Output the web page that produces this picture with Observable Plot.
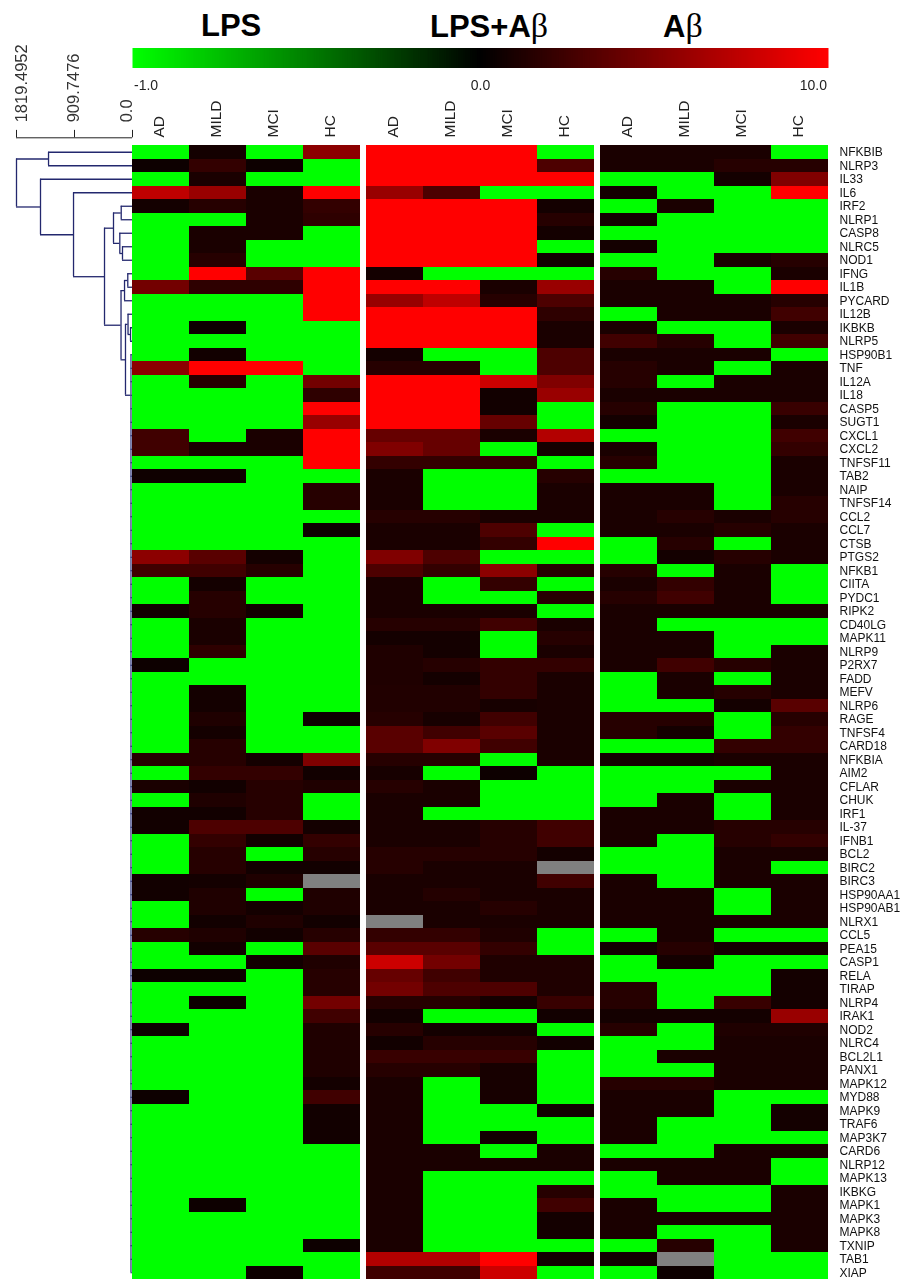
<!DOCTYPE html>
<html>
<head>
<meta charset="utf-8">
<script src="https://cdn.jsdelivr.net/npm/d3@7"></script>
<script src="https://cdn.jsdelivr.net/npm/@observablehq/plot@0.6"></script>
<style>
html,body{margin:0;padding:0;background:#fff;overflow:hidden}
#chart{position:relative;width:905px;height:1279px;overflow:hidden}
#chart svg{position:absolute;background:transparent;max-width:none;filter:blur(0.45px)}
.t{position:absolute;top:11px;font:bold 31px/30px "Liberation Sans",Arial,sans-serif;color:#000;white-space:nowrap}
.t i{font:normal 34px/30px "Liberation Serif",serif}
</style>
</head>
<body>
<div id="chart">
<span class="t" style="left:201px">LPS</span>
<span class="t" style="left:430px">LPS+A<i>β</i></span>
<span class="t" style="left:663px">A<i>β</i></span>
</div>
<script>
const G = -1; // saturated green
const genes = ["NFKBIB","NLRP3","IL33","IL6","IRF2","NLRP1","CASP8","NLRC5","NOD1","IFNG","IL1B","PYCARD","IL12B","IKBKB","NLRP5","HSP90B1","TNF","IL12A","IL18","CASP5","SUGT1","CXCL1","CXCL2","TNFSF11","TAB2","NAIP","TNFSF14","CCL2","CCL7","CTSB","PTGS2","NFKB1","CIITA","PYDC1","RIPK2","CD40LG","MAPK11","NLRP9","P2RX7","FADD","MEFV","NLRP6","RAGE","TNFSF4","CARD18","NFKBIA","AIM2","CFLAR","CHUK","IRF1","IL-37","IFNB1","BCL2","BIRC2","BIRC3","HSP90AA1","HSP90AB1","NLRX1","CCL5","PEA15","CASP1","RELA","TIRAP","NLRP4","IRAK1","NOD2","NLRC4","BCL2L1","PANX1","MAPK12","MYD88","MAPK9","TRAF6","MAP3K7","CARD6","NLRP12","MAPK13","IKBKG","MAPK1","MAPK3","MAPK8","TXNIP","TAB1","XIAP"];
const samples = ["AD","MILD","MCI","HC"];
const groups = ["LPS","LPS+Aβ","Aβ"];
const scaleTicks = [-1,0,10];

const lps = [
[G,.8,G,5.5],[.5,2,.5,G],[G,1,G,G],[7.5,6,1,10],[.8,1.5,1,2],[G,G,1,1.8],[G,1,1,G],[G,1,G,G],[G,1.5,G,G],[G,10,3.5,10],
[4.5,1.8,1.8,10],[G,G,G,10],[G,G,G,10],[G,.5,G,G],[G,G,G,G],[G,.7,G,G],[5.5,10,10,G],[G,1.5,G,4.5],[G,G,G,1.8],[G,G,G,10],
[G,G,G,6],[2.5,G,1,10],[2.5,1,1,10],[G,G,G,10],[.6,.6,G,G],[G,G,G,1.5],[G,G,G,1.5],[G,G,G,G],[G,G,G,.5],[G,G,G,G],
[5.5,3.5,.8,G],[2.5,2.5,1.5,G],[G,.8,G,G],[G,1.5,G,G],[.7,1.5,.7,G],[G,1,G,G],[G,1,G,G],[G,1.8,G,G],[.5,G,G,G],[G,G,G,G],
[G,.8,G,G],[G,.8,G,G],[G,1.2,G,.5],[G,.8,G,G],[G,1.5,G,G],[1.5,1.5,.8,5],[G,2,2,.7],[1,.7,1.5,1.2],[G,1.2,1.5,G],[.7,.7,1.5,G],
[.7,3,3,.8],[G,2,.7,2],[G,1.5,G,1.5],[G,1.5,.7,.7],[.7,.8,1.2,null],[.7,1.2,G,1.2],[G,1.2,.8,1.2],[G,.7,1.2,.7],[1.5,1.2,.7,1.5],[G,.7,G,3.5],
[G,G,.7,1.2],[.5,.5,G,1.5],[G,G,G,1.5],[G,.5,G,4.5],[G,G,G,2.5],[.5,G,G,1.2],[G,G,G,1.2],[G,G,G,1.2],[G,G,G,1.2],[G,G,G,.8],
[.5,G,G,2.5],[G,G,G,.7],[G,G,G,.7],[G,G,G,.7],[G,G,G,G],[G,G,G,G],[G,G,G,G],[G,G,G,G],[G,.5,G,G],[G,G,G,G],
[G,G,G,G],[G,G,G,.5],[G,G,G,G],[G,G,.5,G]];

const lpsAbeta = [
[10,10,10,G],[10,10,10,3],[10,10,10,10],[6,3,G,G],[10,10,10,.8],[10,10,10,1.5],[10,10,10,.8],[10,10,10,G],[10,10,10,.7],[.8,G,G,G],
[10,10,1,6],[6,7.5,1.5,3],[10,10,10,1.8],[10,10,10,1],[10,10,10,1],[.8,G,G,3],[1.5,1.5,G,3],[10,10,8,5],[10,10,.7,6],[10,10,.7,G],
[10,10,4,G],[4,4,1,7],[5,4,G,.8],[2,2,2,G],[1,G,G,1.5],[1,G,G,1],[1,G,G,1],[1.5,1.5,1,1],[1,1,3,G],[1,1,2,10],
[5,3,G,G],[3,2,5.5,1.5],[1,G,2,G],[1,G,G,1.5],[1,1,1,G],[1.5,1.5,2.5,1],[.8,.8,G,1.5],[1.2,.8,G,1],[1.2,1.5,2,2],[1.2,.8,2,1],
[1.3,1.3,2,1],[1.3,1.3,.9,1],[1.5,.9,2.5,1],[3.5,2.5,3.5,1],[3.5,5,2.5,1],[1.5,1.5,G,1],[.9,G,.5,G],[1.5,1,G,G],[1,1,G,G],[1,G,G,G],
[1,1,1.5,2.5],[1,1,1.5,2.5],[1.5,1.5,1.5,.8],[1.5,1,1,null],[1,1,1,2.5],[1,1.4,1,1],[1,1,1.5,1],[null,1,1,1],[2,2,1.2,G],[3.5,3.5,2,G],
[8,4.5,1.2,1.2],[4,2.5,1.2,1.2],[4.5,3,3,1.2],[1.5,1.5,.8,2.2],[.7,G,G,.7],[1.5,.8,.8,G],[.7,1.5,1.5,.7],[2.2,2.2,2.2,G],[1.5,1.5,.9,G],[1,G,.9,G],
[1,G,.9,G],[1,G,G,.7],[1,G,G,G],[1,G,.7,G],[1,1,G,1],[1,1,1,1],[1,G,G,G],[1,G,G,1.5],[1,G,G,2.5],[1,G,G,.8],
[1,G,G,.8],[1,G,G,G],[7,7,10,.7],[2.5,2.5,8,G]];

const abeta = [
[1,1,1,G],[1,1,1.5,1.5],[G,G,.8,5],[.8,G,G,10],[G,1,G,G],[.8,G,G,G],[G,G,G,G],[.8,G,G,G],[G,G,1,1.5],[1.5,G,G,1],
[1,1,G,10],[1,1,1,1.5],[G,1,1,2.5],[1,G,G,1],[2.5,1.5,G,2.5],[1,1,1,G],[1.5,1,G,1],[1.5,G,1,1],[1,1,1,1],[1.5,G,G,2.2],
[.8,G,G,1],[G,G,G,2.5],[1,G,G,2],[1.5,G,G,1],[G,G,G,1],[1,1,G,1],[1,1,G,1.5],[1,1.5,1,1.5],[1,1,1.5,1],[G,1.5,G,1],
[G,.8,1.5,1],[1.5,G,1,G],[1,2,1,G],[1.5,2.5,1,G],[1,1,1,1],[1,G,G,G],[1,1,G,G],[1,1,G,1],[1,2.5,1.5,1],[G,1,G,1],
[G,1,1.5,1],[G,G,.8,3.5],[1.5,1.5,G,1.5],[1.5,.8,G,2],[G,G,2,2],[.8,.8,1,1],[G,G,G,1],[G,G,1,1],[G,1,G,1],[1,1,G,1],
[1,1,1.5,1.5],[1,G,1.5,2],[G,G,1,1],[G,G,1,G],[1,G,1,1],[1,1,G,1],[1,1,G,1],[1,1,1,1],[G,1,G,G],[.7,1.5,.8,.8],
[G,.8,G,G],[G,G,G,.8],[1.5,G,G,.8],[1.5,G,2.2,.8],[.8,.8,.8,6],[1.5,G,1.2,1.2],[G,G,1,1],[G,1,1,1],[G,G,1,1],[1.5,1.5,1,1],
[1,1,G,G],[1,1,G,.8],[1,G,G,.8],[1,G,G,G],[G,G,1,1],[1,1,1,G],[G,1,1,G],[G,G,G,1],[1,G,G,1],[1,1,1,1],
[1,G,G,1],[G,1.5,G,1],[.7,null,G,G],[G,.5,G,G]];

// Dendrogram: [height, child, child]; numeric children are gene rows.
const n = (h, a, b) => ({h, a, b});
const chainRows = genes.map((_, i) => i).filter(i => i >= 15);
const chain = {h: 24, top: 15, bottom: 83, at: 18};
const tree = n(1819.5, n(1317, 0, 1), n(1443, 2, n(925, 3, n(439,
  n(298, n(177, 4, 5), n(199, 6, n(157, 7, 8))),
  n(180, n(125, n(74, 9, 10), 11), n(110, n(70, 12, n(31, 13, 14)), chain))))));
const axisTicks = [1819.4952, 909.7476, 0];
const axisTickLabels = ["1819.4952", "909.7476", "0.0"];

// ---- assemble tables for the library ----
const cells = [];
[lps, lpsAbeta, abeta].forEach((m, g) => m.forEach((row, r) => row.forEach((value, s) =>
  cells.push({group: groups[g], sample: samples[s], gene: genes[r], value}))));

const verticals = [], horizontals = [];
const rowOf = c => typeof c === "number" ? c : c.at !== undefined ? c.at : c.y;
const heightOf = c => typeof c === "number" ? 0 : c.h;
(function walk(node) {
  if (typeof node === "number" || node.at !== undefined) return;
  walk(node.a); walk(node.b);
  const ya = rowOf(node.a), yb = rowOf(node.b);
  node.y = (ya + yb) / 2;
  verticals.push({x: node.h, y1: ya, y2: yb});
  horizontals.push({y: ya, x1: node.h, x2: heightOf(node.a)});
  horizontals.push({y: yb, x1: node.h, x2: heightOf(node.b)});
})(tree);

const colorScale = {type: "linear", domain: [-1, 0, 10], range: ["#00ff00", "#000000", "#ff0000"]};
const navy = "#23286e";
const place = (svg, left, top) => { svg.style.left = left + "px"; svg.style.top = top + "px"; return svg; };
const chart = document.getElementById("chart");

// ---- dendrogram ----
const axisRow = -1.07;
chart.append(place(Plot.plot({
  width: 140, height: 1234, margin: 0,
  x: {domain: [1819.4952, 0], range: [16, 132], axis: null},
  y: {domain: [-0.5, 83.5], range: [100, 1234], axis: null},
  style: {background: "transparent"},
  marks: [
    Plot.ruleX(verticals, {x: "x", y1: "y1", y2: "y2", stroke: navy, strokeWidth: 1.3}),
    Plot.ruleY(horizontals, {y: "y", x1: "x1", x2: "x2", stroke: navy, strokeWidth: 1.3}),
    Plot.ruleX([chain], {x: "h", y1: "top", y2: "bottom", stroke: "#5c5f98", strokeWidth: 1.6}),
    Plot.ruleY(chainRows, {y: d => d, x1: chain.h, x2: 0, stroke: navy, strokeWidth: 1}),
    Plot.ruleY([axisRow], {x1: axisTicks[0], x2: axisTicks[2], stroke: "#222", strokeWidth: 1}),
    Plot.ruleX(axisTicks, {x: d => d, y1: axisRow, y2: axisRow - 0.55, stroke: "#222", strokeWidth: 1}),
    ...[5, -1, -6].map((dx, i) => Plot.text([axisTicks[i]], {
      x: d => d, y: axisRow, text: () => axisTickLabels[i], rotate: -90, textAnchor: "start",
      dx, dy: -15.5, fontSize: 16.5, fontFamily: "Liberation Sans", fill: "#333"
    }))
  ]
}), 0, 45));

// ---- colour bar ----
const barStops = [...d3.range(-1, 0, 0.005), ...d3.range(0, 10.01, 0.05)];
chart.append(place(Plot.plot({
  width: 773, height: 46, marginLeft: 0, marginRight: 77, marginTop: 4, marginBottom: 22,
  x: {type: "linear", domain: [-1, 0, 10], range: [1.5, 348, 694.5], axis: null},
  color: colorScale,
  style: {background: "transparent", overflow: "visible"},
  marks: [
    Plot.ruleX(barStops, {x: d => d, stroke: d => d, strokeWidth: 3}),
    ...["start", "middle", "end"].map((anchor, i) => Plot.text([scaleTicks[i]], {
      x: d => d, text: d => d.toFixed(1), textAnchor: anchor, frameAnchor: "bottom",
      lineAnchor: "bottom", dy: 21, fontSize: 14, fontFamily: "Liberation Sans", fill: "#222"
    }))
  ]
}), 132, 44));

// ---- heat map ----
chart.append(place(Plot.plot({
  width: 773, height: 1189, marginLeft: 0, marginRight: 77, marginTop: 55, marginBottom: 0,
  fx: {domain: groups, paddingInner: 6 / 234, paddingOuter: 0, round: false, axis: null, label: null},
  x: {domain: samples, padding: 0, round: false, label: null},
  y: {domain: genes, padding: 0, round: false, label: null},
  color: colorScale,
  style: {background: "transparent"},
  marks: [
    Plot.cell(cells.filter(d => d.value !== null), {fx: "group", x: "sample", y: "gene", fill: "value", shapeRendering: "crispEdges"}),
    Plot.cell(cells.filter(d => d.value === null), {fx: "group", x: "sample", y: "gene", fill: "#808080", shapeRendering: "crispEdges"}),
    Plot.axisX({anchor: "top", tickRotate: -90, tickSize: 0, tickPadding: 8, label: null, fontSize: 15.5, fontFamily: "Liberation Sans", fill: "#222", dx: -2}),
    Plot.axisY({anchor: "right", tickSize: 0, tickPadding: 11, label: null, fontSize: 12, fontFamily: "Liberation Sans", fill: "#111"})
  ]
}), 132, 90));
</script>
</body>
</html>
